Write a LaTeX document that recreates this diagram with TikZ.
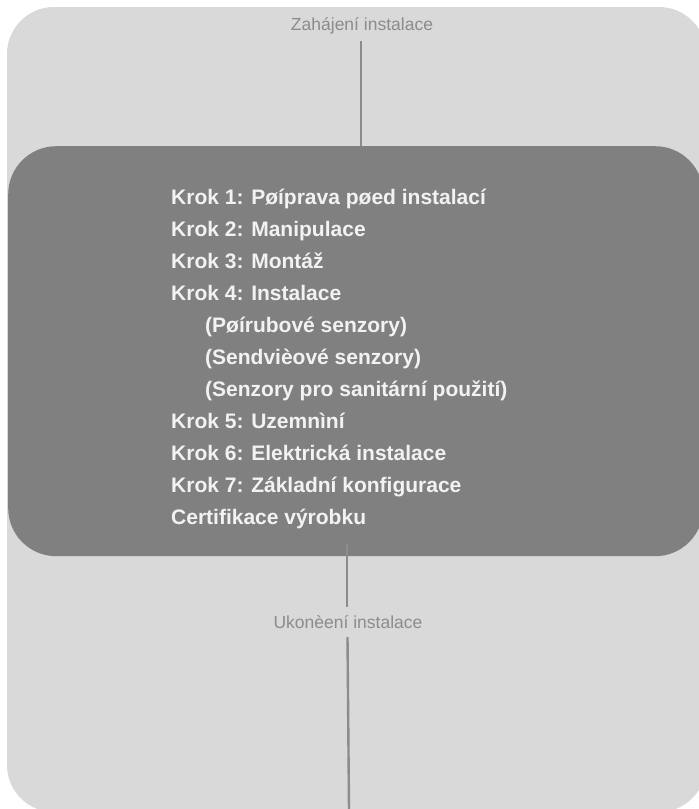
\documentclass[tikz,border=0pt]{standalone}
\usepackage{fontspec}
\setmainfont{Liberation Sans}
\definecolor{bgfill}{HTML}{D9D9D9}
\definecolor{boxfill}{HTML}{808080}
\definecolor{linecol}{HTML}{8C8C8C}
\definecolor{labelcol}{HTML}{8C8C8C}
\definecolor{steptext}{HTML}{F2F2F2}
\tikzset{
  panel/.style={fill=bgfill, draw=none, rounded corners=47pt},
  stepsbox/.style={fill=boxfill, draw=none, rounded corners=48pt},
  label/.style={font=\fontsize{17.5}{20}\selectfont, text=labelcol, inner sep=0pt},
  stepline/.style={font=\bfseries\fontsize{21}{24}\selectfont, text=steptext, anchor=base west, inner sep=0pt},
  conn/.style={draw=linecol, line width=2.4pt}
}
\begin{document}
\begin{tikzpicture}[x=1pt,y=-1pt]
\useasboundingbox (0,0) rectangle (699,809);
\clip (0,0) rectangle (699,809);
\fill[panel] (7,7) rectangle (706,812);
\node[stepsbox, minimum width=695pt, minimum height=410pt, inner sep=0pt, anchor=north west] (steps) at (8,146) {};
\node[label] (start) at (362,26) {Zahájení instalace};
\node[label] (end) at (348,622) {Ukonèení instalace};
\node[stepline] (l1) at (171,204.5) {Krok 1: Pøíprava pøed instalací};
\node[stepline] (l2) at (171,236.5) {Krok 2: Manipulace};
\node[stepline] (l3) at (171,268.5) {Krok 3: Montáž};
\node[stepline] (l4) at (171,300.5) {Krok 4: Instalace};
\node[stepline] (l5) at (205,332.5) {(Pøírubové senzory)};
\node[stepline] (l6) at (205,364.5) {(Sendvièové senzory)};
\node[stepline] (l7) at (205,396.5) {(Senzory pro sanitární použití)};
\node[stepline] (l8) at (171,428.5) {Krok 5: Uzemnìní};
\node[stepline] (l9) at (171,460.5) {Krok 6: Elektrická instalace};
\node[stepline] (l10) at (171,492.5) {Krok 7: Základní konfigurace};
\node[stepline] (l11) at (171,524.5) {Certifikace výrobku};
\coordinate (topend) at (361,146);
\coordinate (b1) at (347,544);
\coordinate (b4) at (349,809);
\draw[conn] (361,41) -- (topend);
\draw[conn] (b1) -- (347,607);
\draw[conn] (347.5,637) -- (b4);
\end{tikzpicture}
\end{document}
